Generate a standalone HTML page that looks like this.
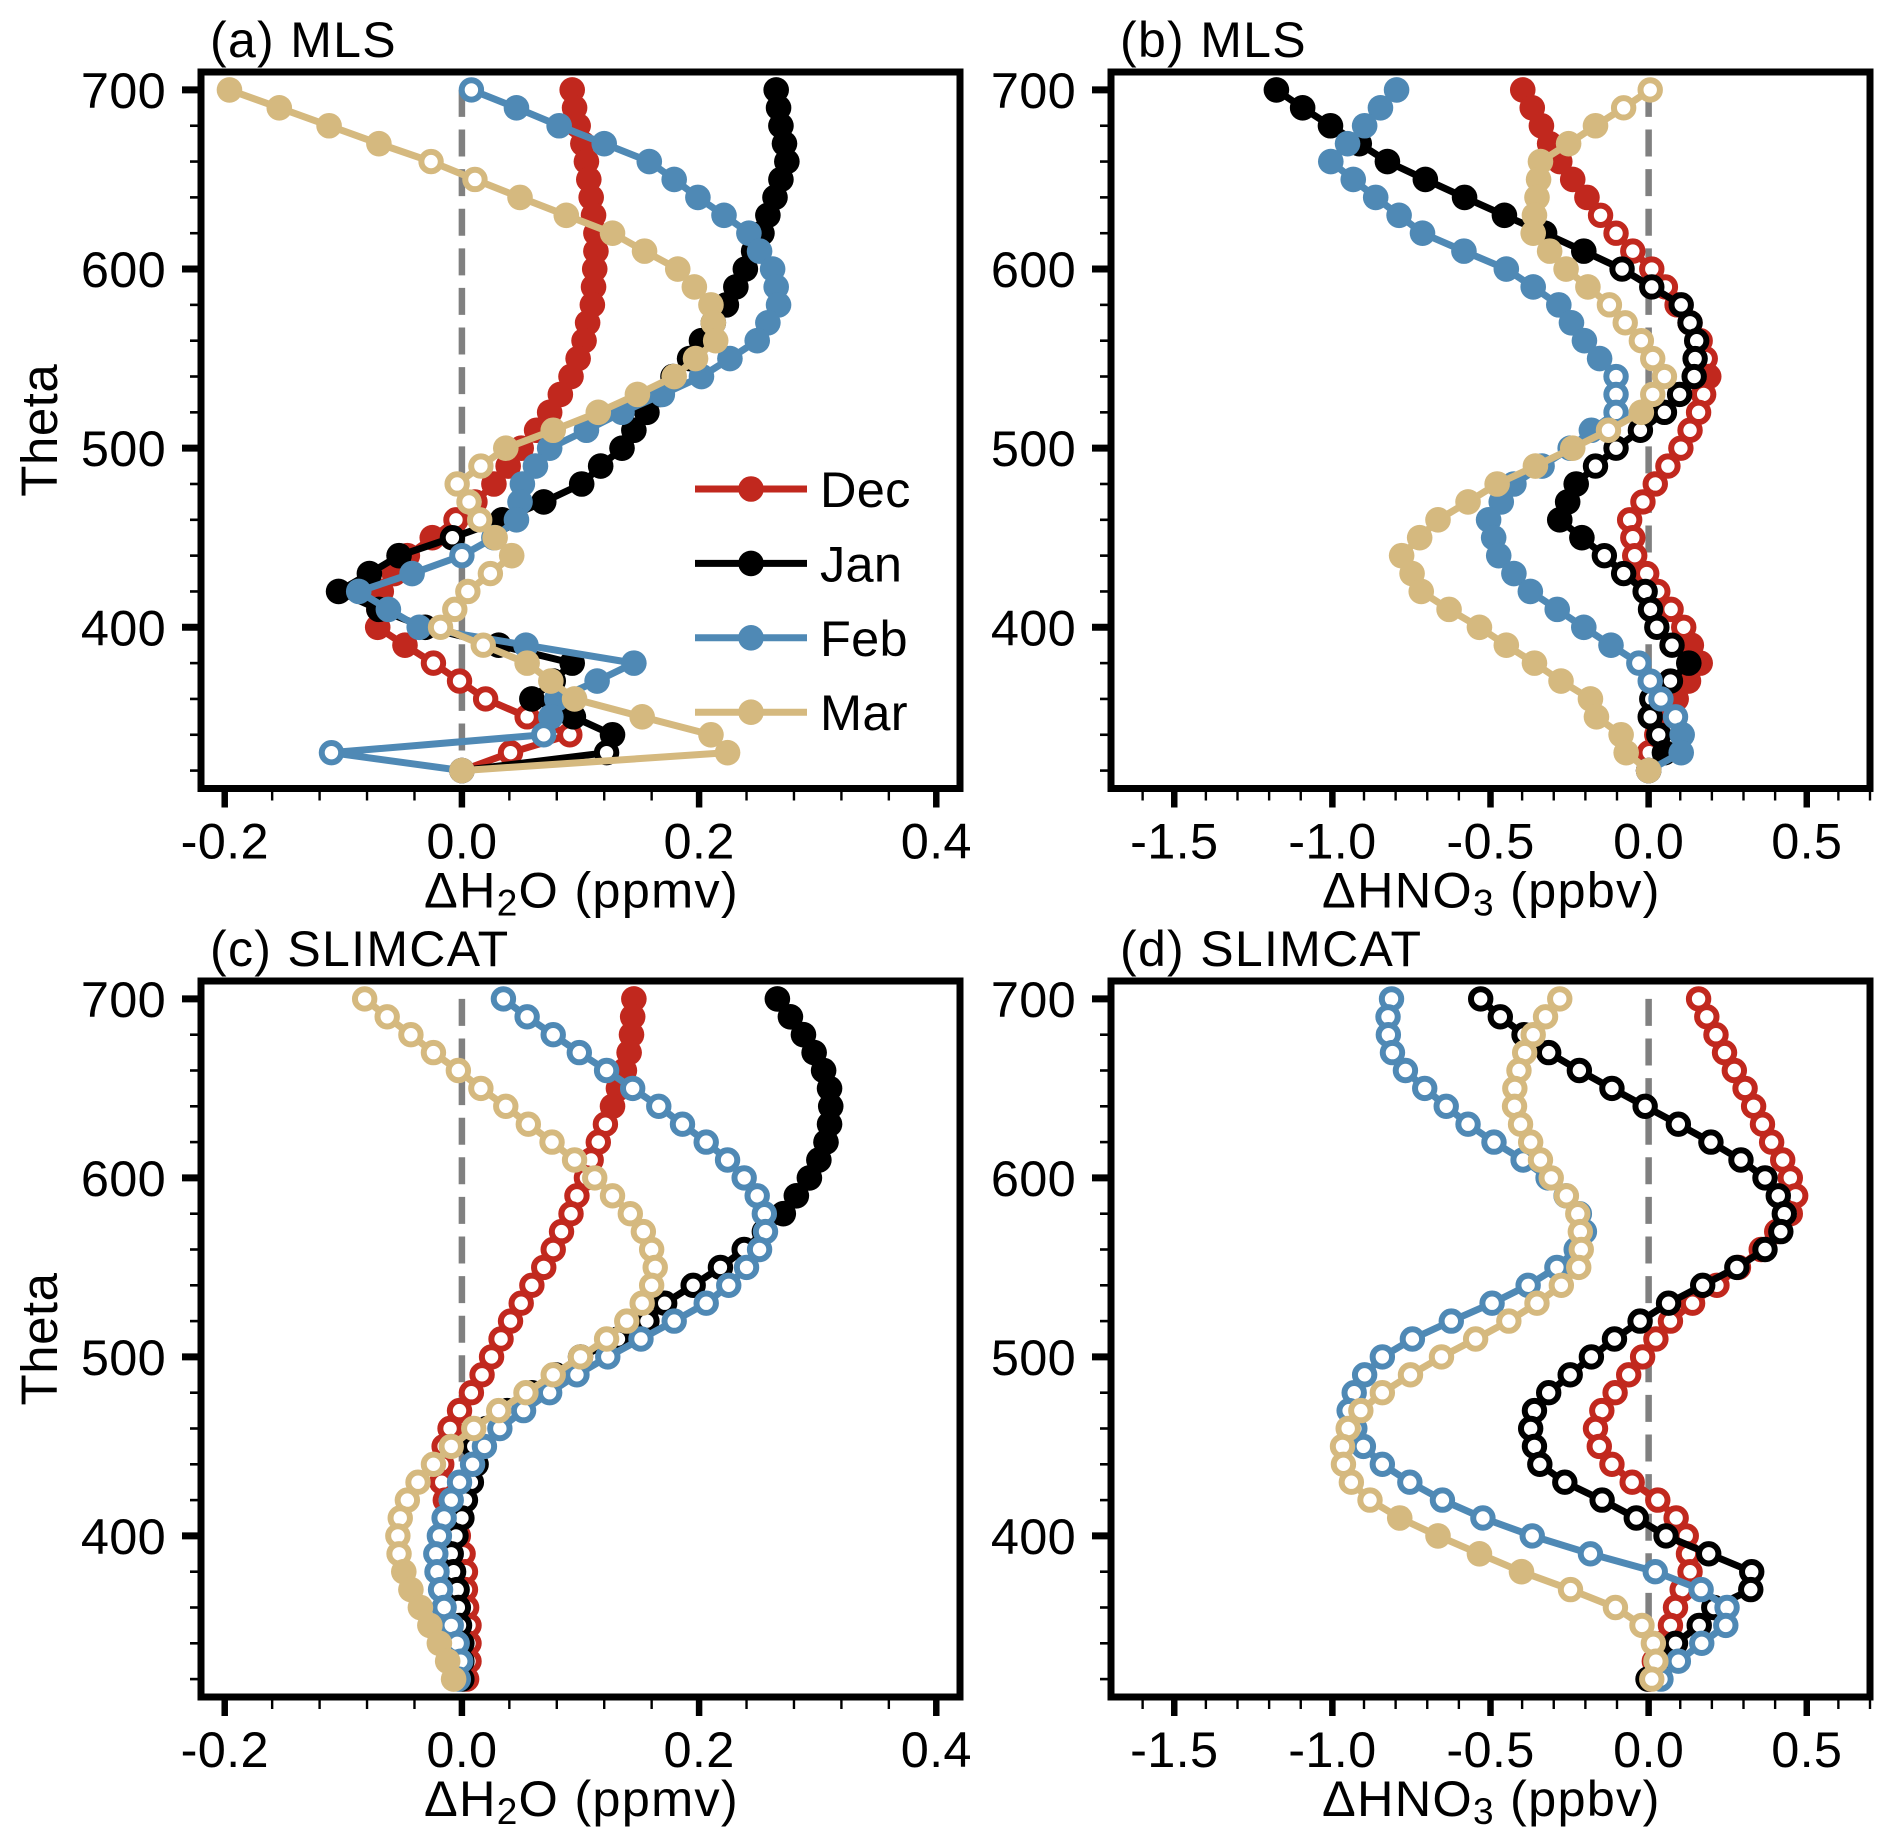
<!DOCTYPE html>
<html lang="en">
<head>
<meta charset="utf-8">
<title>MLS and SLIMCAT theta profiles</title>
<style>
html,body{margin:0;padding:0;background:#fff;width:1892px;height:1846px;overflow:hidden}
svg{display:block}
text{font-family:"Liberation Sans",sans-serif;fill:#000}
</style>
</head>
<body>
<svg id="figure" xmlns="http://www.w3.org/2000/svg" width="1892" height="1846" viewBox="0 0 1892 1846"></svg>
<script>
// Shared vertical levels (potential temperature), top to bottom
const thetaLevels = [700,690,680,670,660,650,640,630,620,610,600,590,580,570,560,550,540,530,520,510,500,490,480,470,460,450,440,430,420,410,400,390,380,370,360,350,340,330,320];
const months = ['Dec','Jan','Feb','Mar'];
const yTickLabels = [700,600,500,400];
const h2oTickLabels = ['-0.2','0.0','0.2','0.4'];
const hno3TickLabels = ['-1.5','-1.0','-0.5','0.0','0.5'];

// Panel (a) MLS H2O
const aDec = [0.093,0.095,0.098,0.102,0.105,0.107,0.109,0.111,0.113,0.113,0.112,0.111,0.110,0.106,0.103,0.098,0.092,0.083,0.074,0.063,0.050,0.039,0.027,0.011,-0.005,-0.025,-0.046,-0.057,-0.068,-0.070,-0.071,-0.048,-0.024,-0.002,0.020,0.055,0.091,0.041,0];
const aJan = [0.265,0.267,0.269,0.272,0.274,0.269,0.264,0.258,0.253,0.246,0.239,0.231,0.223,0.212,0.202,0.192,0.178,0.167,0.156,0.145,0.135,0.117,0.101,0.069,0.034,-0.008,-0.053,-0.078,-0.104,-0.070,-0.031,0.031,0.093,0.077,0.059,0.094,0.127,0.122,0];
const aFeb = [0.008,0.046,0.082,0.120,0.158,0.179,0.199,0.221,0.242,0.251,0.262,0.265,0.267,0.258,0.249,0.226,0.202,0.169,0.135,0.105,0.074,0.062,0.051,0.049,0.046,0.027,0.0,-0.042,-0.087,-0.062,-0.036,0.054,0.145,0.114,0.080,0.075,0.069,-0.110,0];
const aMar = [-0.196,-0.154,-0.112,-0.070,-0.026,0.011,0.049,0.088,0.127,0.154,0.182,0.196,0.210,0.212,0.214,0.197,0.179,0.148,0.115,0.077,0.037,0.016,-0.004,0.006,0.015,0.028,0.042,0.024,0.005,-0.006,-0.018,0.018,0.055,0.075,0.095,0.152,0.210,0.224,0];
const aDecOpen = [470,460,380,370,360,350,340,330];
const aJanOpen = [450,330];
const aFebOpen = [700,440,340,330];
const aMarOpen = [660,650,490,480,470,460,430,420,410,400,390];

// Panel (b) MLS HNO3
const bDec = [-0.398,-0.368,-0.339,-0.313,-0.281,-0.240,-0.195,-0.152,-0.103,-0.050,0.010,0.053,0.090,0.131,0.163,0.179,0.190,0.174,0.158,0.131,0.102,0.061,0.021,-0.018,-0.060,-0.050,-0.044,-0.006,0.029,0.071,0.111,0.135,0.163,0.126,0.087,0.042,0.026,0.002,0];
const bJan = [-1.177,-1.094,-1.006,-0.915,-0.826,-0.706,-0.582,-0.456,-0.329,-0.205,-0.084,0.010,0.103,0.131,0.152,0.147,0.144,0.098,0.050,-0.026,-0.103,-0.168,-0.229,-0.256,-0.281,-0.211,-0.140,-0.079,-0.011,0.006,0.026,0.074,0.127,0.069,0.010,0.005,0.032,0.050,0];
const bFeb = [-0.797,-0.848,-0.898,-0.952,-1.005,-0.934,-0.863,-0.789,-0.715,-0.584,-0.450,-0.365,-0.284,-0.244,-0.203,-0.155,-0.103,-0.103,-0.103,-0.181,-0.248,-0.337,-0.426,-0.466,-0.506,-0.490,-0.474,-0.426,-0.374,-0.289,-0.205,-0.119,-0.031,0.005,0.039,0.085,0.106,0.103,0];
const bMar = [0.005,-0.079,-0.168,-0.253,-0.342,-0.348,-0.353,-0.361,-0.365,-0.313,-0.261,-0.192,-0.124,-0.074,-0.023,0.013,0.050,0.013,-0.023,-0.127,-0.240,-0.358,-0.479,-0.571,-0.666,-0.724,-0.781,-0.748,-0.719,-0.631,-0.535,-0.450,-0.361,-0.277,-0.184,-0.165,-0.087,-0.071,0];
const bDecOpen = [630,620,610,600,590,580,570,560,550,530,520,510,500,490,480,470,460,450,440,430,420,410,400,330];
const bJanOpen = [600,590,580,570,560,550,540,530,520,510,500,490,440,430,420,410,400,390,370,360,350,340];
const bFebOpen = [540,530,520,380,370,360,350];
const bMarOpen = [700,690,580,570,560,550,540,530,510];

// Panel (c) SLIMCAT H2O
const cDec = [0.145,0.144,0.143,0.141,0.137,0.132,0.127,0.121,0.115,0.109,0.105,0.097,0.092,0.084,0.077,0.069,0.059,0.050,0.041,0.033,0.025,0.017,0.008,-0.002,-0.010,-0.015,-0.017,-0.017,-0.014,-0.009,-0.003,0.001,0.003,0.003,0.004,0.006,0.006,0.006,0.004];
const cJan = [0.266,0.277,0.288,0.297,0.305,0.310,0.311,0.310,0.307,0.301,0.293,0.282,0.271,0.255,0.238,0.218,0.195,0.171,0.156,0.132,0.100,0.079,0.059,0.038,0.021,0.010,0.012,0.008,0.003,0,-0.005,-0.009,-0.007,-0.004,-0.003,-0.002,0,0,0];
const cFeb = [0.035,0.055,0.077,0.099,0.122,0.144,0.166,0.186,0.206,0.224,0.238,0.249,0.255,0.256,0.251,0.240,0.225,0.206,0.179,0.151,0.123,0.097,0.074,0.052,0.032,0.019,0.009,-0.002,-0.009,-0.015,-0.019,-0.022,-0.021,-0.018,-0.015,-0.009,-0.004,-0.001,-0.003];
const cMar = [-0.082,-0.063,-0.043,-0.024,-0.003,0.016,0.037,0.056,0.076,0.095,0.112,0.127,0.142,0.153,0.160,0.163,0.160,0.152,0.139,0.122,0.100,0.077,0.054,0.031,0.010,-0.009,-0.024,-0.037,-0.046,-0.052,-0.054,-0.053,-0.049,-0.043,-0.035,-0.027,-0.019,-0.012,-0.007];
const cDecFilled = [700,690,680,670,660,650,640];
const cJanFilled = [700,690,680,670,660,650,640,630,620,610,600,590,580];
const cFebFilled = [];
const cMarFilled = [380,370,360,350,340,330,320];

// Panel (d) SLIMCAT HNO3
const dDec = [0.158,0.184,0.213,0.240,0.271,0.305,0.332,0.360,0.389,0.424,0.448,0.465,0.448,0.405,0.356,0.284,0.216,0.139,0.069,0.023,-0.019,-0.063,-0.106,-0.148,-0.168,-0.156,-0.116,-0.052,0.029,0.087,0.119,0.126,0.131,0.106,0.085,0.069,0.042,0.018,0.002];
const dJan = [-0.531,-0.469,-0.394,-0.316,-0.219,-0.116,-0.011,0.094,0.197,0.292,0.368,0.410,0.429,0.418,0.368,0.279,0.171,0.063,-0.027,-0.108,-0.181,-0.248,-0.316,-0.361,-0.373,-0.361,-0.344,-0.265,-0.147,-0.039,0.055,0.190,0.326,0.323,0.206,0.160,0.085,0.034,-0.002];
const dFeb = [-0.813,-0.824,-0.823,-0.810,-0.769,-0.708,-0.640,-0.571,-0.489,-0.397,-0.318,-0.261,-0.219,-0.203,-0.229,-0.290,-0.381,-0.495,-0.624,-0.747,-0.842,-0.898,-0.931,-0.947,-0.929,-0.902,-0.842,-0.755,-0.652,-0.524,-0.368,-0.184,0.021,0.166,0.248,0.244,0.168,0.094,0.039];
const dMar = [-0.281,-0.326,-0.365,-0.392,-0.410,-0.423,-0.424,-0.405,-0.373,-0.342,-0.308,-0.260,-0.224,-0.216,-0.213,-0.221,-0.276,-0.353,-0.442,-0.547,-0.655,-0.753,-0.842,-0.910,-0.950,-0.968,-0.965,-0.940,-0.881,-0.787,-0.666,-0.535,-0.402,-0.247,-0.105,-0.021,0.015,0.023,0.010];
const dDecFilled = [];
const dJanFilled = [];
const dFebFilled = [];
const dMarFilled = [410,400,390,380];

const NS = 'http://www.w3.org/2000/svg';
const svg = document.getElementById('figure');
const monthColors = {Dec:'#C1281E',Jan:'#000000',Feb:'#4F89B5',Mar:'#D5B97F'};

function make(tag, attrs, parent) {
  const el = document.createElementNS(NS, tag);
  for (const k in attrs) el.setAttribute(k, attrs[k]);
  parent.appendChild(el);
  return el;
}

function slug(s){ return String(s).toLowerCase().replace(/[^a-z0-9]+/g,'-').replace(/^-|-$/g,''); }

function drawPanel(p) {
  const g = make('g', {}, svg);
  
  

  const yScale = t => p.top + (710 - t) * (p.bottom - p.top) / 400;
  const xScale = v => p.left + (v - p.xMin) * (p.right - p.left) / (p.xMax - p.xMin);

  // zero reference line
  const zero = make('line', {x1:xScale(0), x2:xScale(0), y1:yScale(700), y2:yScale(320), stroke:'#808080', 'stroke-width':6.5, 'stroke-dasharray':'27 12.6'}, g);
  
  

  // series
  p.series.forEach(s => {
    const color = monthColors[s.month];
    const sg = make('g', {}, g);
    
    
    const pts = s.values.map((v, i) => xScale(v).toFixed(2) + ',' + yScale(thetaLevels[i]).toFixed(2)).join(' ');
    const line = make('polyline', {points:pts, fill:'none', stroke:color, 'stroke-width':7, 'stroke-linejoin':'round'}, sg);
    
    
    s.values.forEach((v, i) => {
      const t = thetaLevels[i];
      const open = s.isOpen(t);
      const m = make('circle', open
        ? {cx:xScale(v), cy:yScale(t), r:9.7, fill:'#fff', stroke:color, 'stroke-width':6}
        : {cx:xScale(v), cy:yScale(t), r:12.8, fill:color}, sg);
      
      
    });
  });

  // frame
  const frame = make('rect', {x:p.left, y:p.top, width:p.right - p.left, height:p.bottom - p.top, fill:'none', stroke:'#000', 'stroke-width':7}, g);
  
  

  // y minor ticks
  for (let t = 320; t <= 680; t += 20) {
    if (t % 100 === 0) continue;
    const mt = make('line', {x1:p.left - 11, x2:p.left, y1:yScale(t), y2:yScale(t), stroke:'#000', 'stroke-width':2.6}, g);
    
    
  }
  // y major ticks and labels
  yTickLabels.forEach(t => {
    const tk = make('line', {x1:p.left - 19, x2:p.left, y1:yScale(t), y2:yScale(t), stroke:'#000', 'stroke-width':7}, g);
    
    
    const lb = make('text', {x:p.left - 35, y:yScale(t) + 18, 'font-size':50.5, 'letter-spacing':0.3, 'text-anchor':'end'}, g);
    lb.textContent = String(t);
    
    
  });

  // x minor ticks
  p.xMinor.forEach(v => {
    const mt = make('line', {x1:xScale(v), x2:xScale(v), y1:p.bottom, y2:p.bottom + 12, stroke:'#000', 'stroke-width':2.4}, g);
    
    
  });
  // x major ticks and labels
  p.xTicks.forEach(lbl => {
    const v = parseFloat(lbl);
    const tk = make('line', {x1:xScale(v), x2:xScale(v), y1:p.bottom, y2:p.bottom + 19, stroke:'#000', 'stroke-width':6.5}, g);
    
    
    const lb = make('text', {x:xScale(v), y:p.bottom + 70, 'font-size':50.5, 'letter-spacing':0.3, 'text-anchor':'middle'}, g);
    lb.textContent = lbl;
    
    
  });

  // x axis title with subscript
  const xt = make('text', {x:p.xTitleX, y:p.bottom + 119, 'font-size':50.5, 'letter-spacing':1.25}, g);
  
  
  xt.appendChild(document.createTextNode(p.xTitle[0]));
  const sub = make('tspan', {'font-size':37, dy:8}, xt);
  sub.textContent = p.xTitle[1];
  const rest = make('tspan', {dy:-8}, xt);
  rest.textContent = p.xTitle[2];

  // panel title
  const ti = make('text', {x:p.left + 9, y:p.top - 15, 'font-size':50, 'letter-spacing':1.3}, g);
  ti.textContent = p.title;
  
  

  // y axis title
  if (p.showY) {
    const cy = (p.top + p.bottom) / 2;
    const yl = make('text', {x:57, y:cy, 'font-size':51, 'letter-spacing':0.5, 'text-anchor':'middle', transform:'rotate(-90 57 ' + cy + ')'}, g);
    yl.textContent = 'Theta';
    
    
  }
}

const h2oMinor = [-0.16,-0.12,-0.08,-0.04,0.04,0.08,0.12,0.16,0.24,0.28,0.32,0.36];
const hno3Minor = [-1.6,-1.4,-1.3,-1.2,-1.1,-0.9,-0.8,-0.7,-0.6,-0.4,-0.3,-0.2,-0.1,0.1,0.2,0.3,0.4,0.6,0.7];

const openFrom = list => t => list.includes(t);
const filledFrom = list => t => !list.includes(t);

drawPanel({id:'a', title:'(a) MLS', left:201, right:960, top:72, bottom:788.5, xMin:-0.22, xMax:0.42, xTicks:h2oTickLabels, xMinor:h2oMinor, xTitle:['ΔH','2','O (ppmv)'], xTitleX:424, showY:true,
  series:[{month:'Dec',values:aDec,isOpen:openFrom(aDecOpen)},{month:'Jan',values:aJan,isOpen:openFrom(aJanOpen)},{month:'Feb',values:aFeb,isOpen:openFrom(aFebOpen)},{month:'Mar',values:aMar,isOpen:openFrom(aMarOpen)}]});
drawPanel({id:'b', title:'(b) MLS', left:1111, right:1870, top:72, bottom:788.5, xMin:-1.7, xMax:0.7, xTicks:hno3TickLabels, xMinor:hno3Minor, xTitle:['ΔHNO','3',' (ppbv)'], xTitleX:1322, showY:false,
  series:[{month:'Dec',values:bDec,isOpen:openFrom(bDecOpen)},{month:'Jan',values:bJan,isOpen:openFrom(bJanOpen)},{month:'Feb',values:bFeb,isOpen:openFrom(bFebOpen)},{month:'Mar',values:bMar,isOpen:openFrom(bMarOpen)}]});
drawPanel({id:'c', title:'(c) SLIMCAT', left:201, right:960, top:981, bottom:1697, xMin:-0.22, xMax:0.42, xTicks:h2oTickLabels, xMinor:h2oMinor, xTitle:['ΔH','2','O (ppmv)'], xTitleX:424, showY:true,
  series:[{month:'Dec',values:cDec,isOpen:filledFrom(cDecFilled)},{month:'Jan',values:cJan,isOpen:filledFrom(cJanFilled)},{month:'Feb',values:cFeb,isOpen:filledFrom(cFebFilled)},{month:'Mar',values:cMar,isOpen:filledFrom(cMarFilled)}]});
drawPanel({id:'d', title:'(d) SLIMCAT', left:1111, right:1870, top:981, bottom:1697, xMin:-1.7, xMax:0.7, xTicks:hno3TickLabels, xMinor:hno3Minor, xTitle:['ΔHNO','3',' (ppbv)'], xTitleX:1322, showY:false,
  series:[{month:'Dec',values:dDec,isOpen:filledFrom(dDecFilled)},{month:'Jan',values:dJan,isOpen:filledFrom(dJanFilled)},{month:'Feb',values:dFeb,isOpen:filledFrom(dFebFilled)},{month:'Mar',values:dMar,isOpen:filledFrom(dMarFilled)}]});

// legend (inside panel a)
const legend = make('g', {}, svg);


months.forEach((mon, i) => {
  const y = 489 + i * 74.4;
  const e = make('g', {}, legend);
  
  
  const ln = make('line', {x1:695, x2:807, y1:y, y2:y, stroke:monthColors[mon], 'stroke-width':7}, e);
  
  
  const c = make('circle', {cx:751, cy:y, r:12.8, fill:monthColors[mon]}, e);
  
  
  const t = make('text', {x:820, y:y + 18, 'font-size':50.5, 'letter-spacing':0.3}, e);
  t.textContent = mon;
  
  
});
</script>
</body>
</html>
